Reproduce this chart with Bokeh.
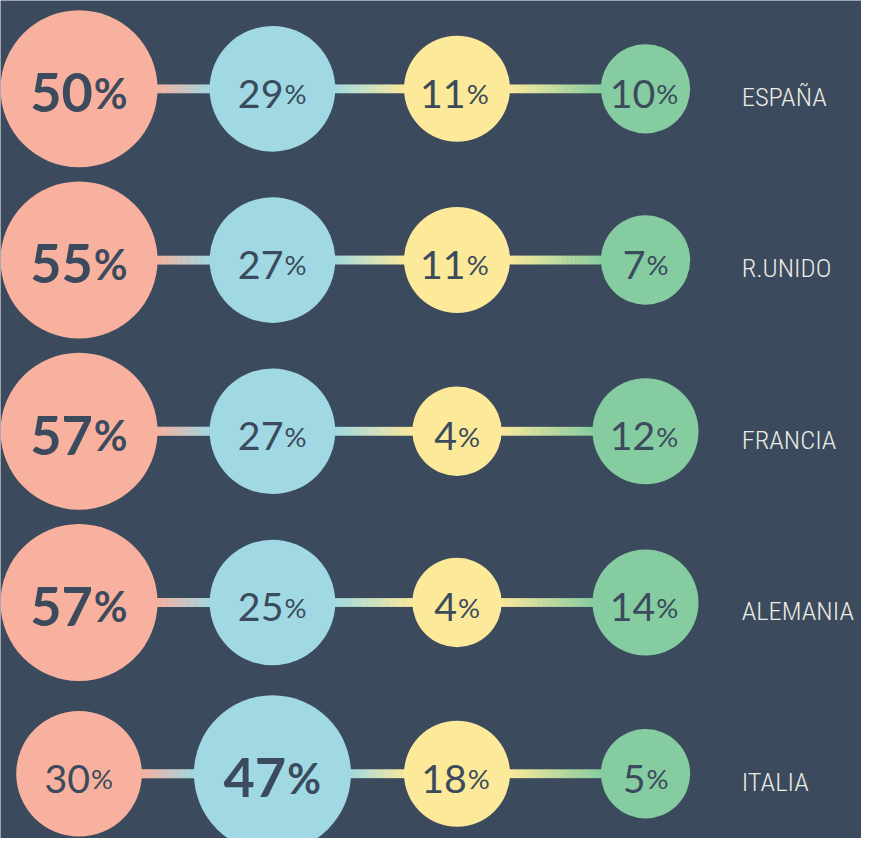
import numpy as np
from bokeh.plotting import figure
from bokeh.models import Range1d, ColumnDataSource
from bokeh.embed import file_html
from bokeh.resources import INLINE
from bokeh.core.properties import value

# ---------------- data ----------------
countries = ["ESPAÑA", "R.UNIDO", "FRANCIA", "ALEMANIA", "ITALIA"]
col1 = [50, 55, 57, 57, 30]
col2 = [29, 27, 27, 25, 47]
col3 = [11, 11, 4, 4, 18]
col4 = [10, 7, 12, 14, 5]

# ---------------- style / layout ----------------
BG = "#3b4a5c"
TXT = "#3b4a5c"
LABEL = "#ecebe4"
colors = ["#f8b19e", "#a0d9e3", "#fce99a", "#86cca1"]
col_x = [80, 277, 465, 657]
row_y0, row_step = 90, 174.5
rank_radius = [80, 64, 54, 45.5]
label_x = 755

W, H = 861, 838
REF_W, REF_H = 877, 854
s = W / REF_W  # px per data unit

char_w = {"1": 0.50}
DIG_W = 0.56
PCT_W = 0.80

small_num, small_pct = 40, 28
big_num, big_pct = 55, 42
small_base, big_base, label_base = 5, 4, 8


def hex2rgb(h):
    h = h.lstrip("#")
    return np.array([int(h[i:i + 2], 16) for i in (0, 2, 4)], float)


def rgb2hex(c):
    return "#%02x%02x%02x" % tuple(int(round(v)) for v in c)


def num_width(txt, fs):
    return sum(char_w.get(ch, DIG_W) for ch in txt) * fs


vals = np.array([col1, col2, col3, col4]).T

circ = dict(x=[], y=[], r=[], c=[])
seg = dict(x0=[], x1=[], y=[], c=[])
txt_small = dict(x=[], y=[], t=[])
pct_small = dict(x=[], y=[])
txt_big = dict(x=[], y=[], t=[])
pct_big = dict(x=[], y=[])

NSEG = 24
for i, row in enumerate(vals):
    y = row_y0 + i * row_step
    order = np.argsort(-row)
    ranks = np.empty(4, int)
    ranks[order] = np.arange(4)
    radii = [rank_radius[k] for k in ranks]
    for j in range(4):
        circ["x"].append(col_x[j]); circ["y"].append(y)
        circ["r"].append(radii[j]); circ["c"].append(colors[j])
        t = str(int(row[j]))
        if ranks[j] == 0:
            a = (num_width(t, big_num) - PCT_W * big_pct) / 2
            txt_big["x"].append(col_x[j] + a); txt_big["y"].append(y + big_base); txt_big["t"].append(t)
            pct_big["x"].append(col_x[j] + a + 1); pct_big["y"].append(y + big_base)
        else:
            a = (num_width(t, small_num) - PCT_W * small_pct) / 2
            txt_small["x"].append(col_x[j] + a); txt_small["y"].append(y + small_base); txt_small["t"].append(t)
            pct_small["x"].append(col_x[j] + a + 1); pct_small["y"].append(y + small_base)
    for j in range(3):
        xa = col_x[j] + radii[j] - 2
        xb = col_x[j + 1] - radii[j + 1] + 2
        ca, cb = hex2rgb(colors[j]), hex2rgb(colors[j + 1])
        edges = np.linspace(xa, xb, NSEG + 1)
        for k in range(NSEG):
            tt = (k + 0.5) / NSEG
            seg["x0"].append(edges[k]); seg["x1"].append(edges[k + 1] + 0.6)
            seg["y"].append(y); seg["c"].append(rgb2hex(ca * (1 - tt) + cb * tt))

p = figure(width=W, height=H, x_range=Range1d(0, REF_W), y_range=Range1d(REF_H, 0),
           output_backend="svg", toolbar_location=None, min_border=0)
p.axis.visible = False
p.grid.visible = False
p.outline_line_color = None
p.background_fill_color = BG
p.border_fill_color = BG

p.segment(x0="x0", y0="y", x1="x1", y1="y", line_color="c", line_width=9 * s,
          line_cap="butt", source=ColumnDataSource(seg))
p.circle(x="x", y="y", radius="r", fill_color="c", line_color=None,
         source=ColumnDataSource(circ))

FONT = value("Lato")
p.text(x="x", y="y", text="t", source=ColumnDataSource(txt_small), text_font=FONT,
       text_font_size=f"{small_num * s:.1f}px", text_color=TXT, text_align="right",
       text_baseline="alphabetic")
p.text(x="x", y="y", text=value("%"), source=ColumnDataSource(pct_small), text_font=FONT,
       text_font_size=f"{small_pct * s:.1f}px", text_color=TXT, text_align="left",
       text_baseline="alphabetic")
p.text(x="x", y="y", text="t", source=ColumnDataSource(txt_big), text_font=FONT,
       text_font_size=f"{big_num * s:.1f}px", text_font_style="bold", text_color=TXT,
       text_align="right", text_baseline="alphabetic")
p.text(x="x", y="y", text=value("%"), source=ColumnDataSource(pct_big), text_font=FONT,
       text_font_size=f"{big_pct * s:.1f}px", text_font_style="bold", text_color=TXT,
       text_align="left", text_baseline="alphabetic")

lab = dict(x=[label_x] * len(countries),
           y=[row_y0 + i * row_step + label_base for i in range(len(countries))],
           t=countries)
p.text(x="x", y="y", text="t", source=ColumnDataSource(lab),
       text_font=value("Roboto Condensed Light"),
       text_font_size=f"{27 * s:.1f}px", text_color=LABEL, text_align="left",
       text_baseline="alphabetic")

open("out.html", "w").write(file_html(p, INLINE))
